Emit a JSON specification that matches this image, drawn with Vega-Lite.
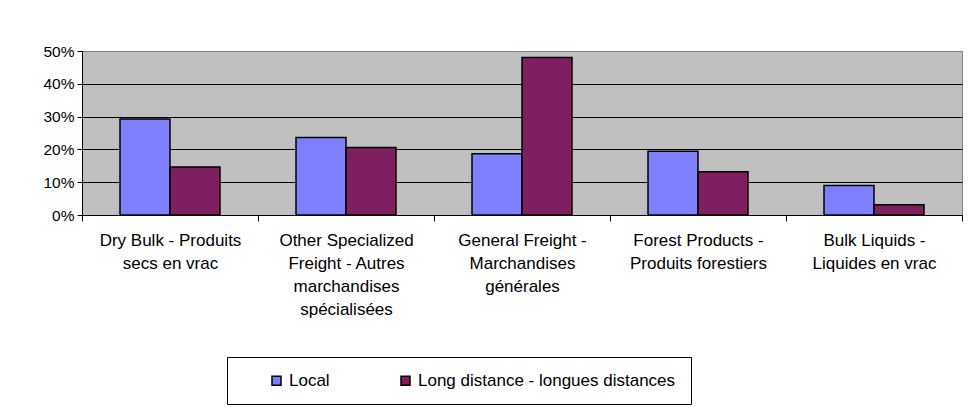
{
  "$schema": "https://vega.github.io/schema/vega-lite/v6.json",
  "width": 880,
  "height": 164,
  "autosize": {"type": "none"},
  "padding": {"left": 82, "top": 51, "right": 15, "bottom": 195},
  "background": "white",
  "data": {
    "values": [
      {"category": "Dry Bulk - Produits|secs en vrac", "series": "Local", "share": 0.293},
      {"category": "Dry Bulk - Produits|secs en vrac", "series": "Long distance - longues distances", "share": 0.146},
      {"category": "Other Specialized|Freight - Autres|marchandises|spécialisées", "series": "Local", "share": 0.236},
      {"category": "Other Specialized|Freight - Autres|marchandises|spécialisées", "series": "Long distance - longues distances", "share": 0.206},
      {"category": "General Freight -|Marchandises|générales", "series": "Local", "share": 0.187},
      {"category": "General Freight -|Marchandises|générales", "series": "Long distance - longues distances", "share": 0.480},
      {"category": "Forest Products -|Produits forestiers", "series": "Local", "share": 0.194},
      {"category": "Forest Products -|Produits forestiers", "series": "Long distance - longues distances", "share": 0.132},
      {"category": "Bulk Liquids -|Liquides en vrac", "series": "Local", "share": 0.090},
      {"category": "Bulk Liquids -|Liquides en vrac", "series": "Long distance - longues distances", "share": 0.031}
    ]
  },
  "mark": {"type": "bar", "stroke": "black", "strokeWidth": 1.5},
  "encoding": {
    "x": {
      "field": "category",
      "type": "nominal",
      "sort": null,
      "scale": {"paddingInner": 0, "paddingOuter": 0},
      "axis": {
        "title": null,
        "labelAngle": 0,
        "labelExpr": "split(datum.label, '|')",
        "labelLineHeight": 23.3,
        "labelFontSize": 17,
        "labelFont": "Liberation Sans",
        "labelColor": "black",
        "labelPadding": 11,
        "labelLimit": 0,
        "labelOverlap": false,
        "labelBaseline": "top",
        "tickBand": "extent",
        "tickSize": 6,
        "tickColor": "black",
        "domainColor": "black",
        "grid": false
      }
    },
    "xOffset": {
      "field": "series",
      "sort": ["Local", "Long distance - longues distances"],
      "scale": {"paddingInner": 0, "paddingOuter": 0.76}
    },
    "y": {
      "field": "share",
      "type": "quantitative",
      "scale": {"domain": [0, 0.5]},
      "axis": {
        "title": null,
        "format": ".0%",
        "values": [0, 0.1, 0.2, 0.3, 0.4, 0.5],
        "labelFontSize": 15.5,
        "labelFont": "Liberation Sans",
        "labelColor": "black",
        "labelPadding": 3,
        "tickSize": 5,
        "tickColor": "black",
        "domainColor": "black",
        "grid": true,
        "gridColor": {"condition": {"test": "datum.value >= 0.5", "value": "#808080"}, "value": "black"},
        "gridOpacity": 1,
        "gridWidth": 1
      }
    },
    "color": {
      "field": "series",
      "type": "nominal",
      "sort": ["Local", "Long distance - longues distances"],
      "scale": {"domain": ["Local", "Long distance - longues distances"], "range": ["#8080FF", "#801F5F"]},
      "legend": {
        "title": null,
        "orient": "none",
        "legendX": 145,
        "legendY": 306,
        "direction": "horizontal",
        "columns": 2,
        "strokeColor": "black",
        "padding": 15,
        "symbolType": "square",
        "symbolSize": 81,
        "symbolStrokeColor": "black",
        "symbolStrokeWidth": 1.5,
        "symbolOpacity": 1,
        "labelFontSize": 17,
        "labelFont": "Liberation Sans",
        "labelColor": "black",
        "labelLimit": 0,
        "columnPadding": 41,
        "symbolOffset": 26
      }
    }
  },
  "config": {
    "view": {"stroke": "#808080", "fill": "#C0C0C0"},
    "bar": {"opacity": 1}
  }
}
